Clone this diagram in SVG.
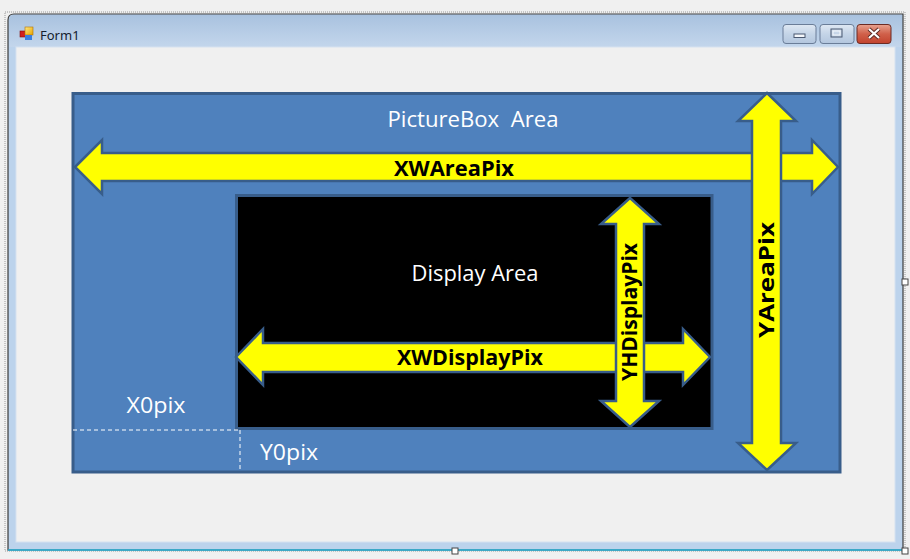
<svg xmlns="http://www.w3.org/2000/svg" width="910" height="559" viewBox="0 0 910 559">
<defs>
<linearGradient id="tb" x1="0" y1="0" x2="0" y2="1">
<stop offset="0" stop-color="#a9c2df"/>
<stop offset="1" stop-color="#c3d6ec"/>
</linearGradient>
<linearGradient id="btn" x1="0" y1="0" x2="0" y2="1">
<stop offset="0" stop-color="#dfe8f3"/>
<stop offset="0.5" stop-color="#c4d4e7"/>
<stop offset="1" stop-color="#b3c6de"/>
</linearGradient>
<linearGradient id="cls" x1="0" y1="0" x2="0" y2="1">
<stop offset="0" stop-color="#e8a390"/>
<stop offset="0.5" stop-color="#d0604a"/>
<stop offset="1" stop-color="#c2432e"/>
</linearGradient>
<linearGradient id="ico1" x1="0" y1="0" x2="1" y2="1">
<stop offset="0" stop-color="#ffe780"/>
<stop offset="1" stop-color="#e7a400"/>
</linearGradient>
</defs>
<style>
.arrow{fill:#ffff00;stroke:#385d8a;stroke-width:2.5;stroke-linejoin:miter}
.box{stroke:#385d8a;stroke-width:3}
.wt{fill:#ffffff;font-family:"Open Sans","Noto Sans",sans-serif;font-size:21px}
.bt{fill:#000000;font-family:"Open Sans","Noto Sans",sans-serif;font-size:21px;font-weight:bold}
.dash{stroke:#ffffff;stroke-width:1;stroke-dasharray:4,3;fill:none}
.handle{fill:#ffffff;stroke:#444444;stroke-width:1}
</style>
<rect width="910" height="559" fill="#f0f0f0"/>
<!-- window -->
<g id="window">
<rect x="5" y="12" width="900" height="539" fill="none" stroke="#9a9a9a" stroke-width="1" stroke-dasharray="1,1"/>
<path d="M8,550 L8,20 Q8,14 14,14 L903,14 L903,550 Z" fill="#bcd3ec" stroke="#3a3a3a" stroke-width="1.2"/>
<line x1="8" y1="550" x2="903" y2="550" stroke="#27b3d8" stroke-width="1.5"/>
<path d="M9,20 Q9,15 14,15 L902,15 L902,47 L9,47 Z" fill="url(#tb)"/>
<rect x="16" y="47" width="879" height="495" fill="#f0f0f0" stroke="#d5e2f0" stroke-width="1"/>
<g id="icon">
<rect x="20" y="31" width="6" height="6" fill="#d02020" stroke="#801010" stroke-width="0.6"/>
<rect x="25" y="27" width="8" height="8" fill="url(#ico1)" stroke="#b07000" stroke-width="0.6"/>
<rect x="25" y="35" width="7" height="5" fill="#3a7fe0"/>
</g>
<text x="40" y="39.5" font-family="'Noto Sans','DejaVu Sans',sans-serif" font-size="13" fill="#15202e">Form1</text>
<g id="minbtn">
<rect x="783" y="24.5" width="33" height="19" rx="3" fill="url(#btn)" stroke="#6a7d98" stroke-width="1"/>
<rect x="794" y="34" width="11" height="3.5" fill="#f4f7fb" stroke="#4a5870" stroke-width="1"/>
</g>
<g id="maxbtn">
<rect x="820" y="24.5" width="34" height="19" rx="3" fill="url(#btn)" stroke="#6a7d98" stroke-width="1"/>
<rect x="831" y="29" width="11" height="8" fill="none" stroke="#4a5870" stroke-width="1"/>
<rect x="833" y="31" width="7" height="4" fill="none" stroke="#f4f7fb" stroke-width="1"/>
</g>
<g id="closebtn">
<rect x="857" y="24.5" width="34" height="19" rx="3" fill="url(#cls)" stroke="#6b2b24" stroke-width="1"/>
<path d="M869,29 L879,38 M879,29 L869,38" stroke="#5a2a24" stroke-width="4"/>
<path d="M869,29 L879,38 M879,29 L869,38" stroke="#ffffff" stroke-width="2.2"/>
</g>
<rect x="902" y="279" width="6" height="6" class="handle"/>
<rect x="452" y="548" width="6" height="6" class="handle"/>
<rect x="902" y="548" width="6" height="6" class="handle"/>
</g>
<!-- picture box -->
<g id="picturebox">
<rect x="73" y="93.5" width="767" height="378.5" fill="#4f81bd" class="box"/>
<text class="wt" x="473" y="127" text-anchor="middle" textLength="171" lengthAdjust="spacingAndGlyphs" xml:space="preserve">PictureBox  Area</text>
</g>
<g id="displayarea">
<rect x="236.5" y="195.5" width="475.5" height="233" fill="#000000" class="box" stroke-width="2.5"/>
<text class="wt" x="475" y="281" text-anchor="middle" textLength="127" lengthAdjust="spacingAndGlyphs">Display Area</text>
</g>
<g id="labels">
<text class="wt" x="156" y="413" text-anchor="middle" textLength="59" lengthAdjust="spacingAndGlyphs">X0pix</text>
<text class="wt" x="289" y="460" text-anchor="middle" textLength="58" lengthAdjust="spacingAndGlyphs">Y0pix</text>
</g>
<g id="connectors">
<line x1="73" y1="430" x2="240" y2="430" class="dash"/>
<line x1="240" y1="430" x2="240" y2="470" class="dash"/>
<g id="xwareapix">
<polygon class="arrow" points="75,167 102,140 102,153 812,153 812,140 838,167 812,194 812,181 102,181 102,194"/>
<text class="bt" x="454" y="176" text-anchor="middle" textLength="120" lengthAdjust="spacingAndGlyphs">XWAreaPix</text>
</g>
<g id="yareapix">
<polygon class="arrow" points="767,93 796,121 781,121 781,443 796,443 767,470 738,443 752,443 752,121 738,121"/>
<text class="bt" transform="translate(774,280) rotate(-90)" x="0" y="0" text-anchor="middle" textLength="116" lengthAdjust="spacingAndGlyphs">YAreaPix</text>
</g>
<g id="xwdisplaypix">
<polygon class="arrow" points="236,357 263,329 263,343 683,343 683,329 710,357 683,385 683,372 263,372 263,385"/>
<text class="bt" x="470" y="365" text-anchor="middle" textLength="146" lengthAdjust="spacingAndGlyphs">XWDisplayPix</text>
</g>
<g id="yhdisplaypix">
<polygon class="arrow" points="630,198 659,224 644,224 644,401 659,401 630,427 601,401 616,401 616,224 601,224"/>
<text class="bt" transform="translate(637,312) rotate(-90)" x="0" y="0" text-anchor="middle" textLength="138" lengthAdjust="spacingAndGlyphs">YHDisplayPix</text>
</g>
</g>
</svg>
